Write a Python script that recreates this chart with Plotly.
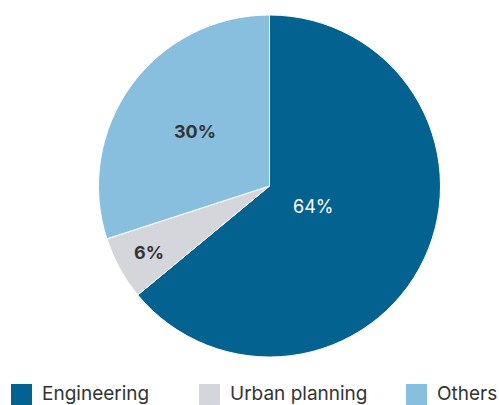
import math
import plotly.graph_objects as go

# Share of staff by field
categories = ["Engineering", "Urban planning", "Others"]
shares = [64, 6, 30]
colors = ["#03628F", "#D5D6DB", "#88BFDE"]
label_colors = ["#FFFFFF", "#333333", "#333333"]
label_weights = [400, 700, 700]
# how far out along each slice's middle the percentage sits (fraction of radius)
label_radius = [0.28, 0.80, 0.54]

W, H = 499, 405
FONT = "Inter, Noto Sans, sans-serif"

# pie box in pixels (from top-left)
PX0, PX1, PY0, PY1 = 98, 441, 15, 357
cx, cy = (PX0 + PX1) / 2, (PY0 + PY1) / 2
R = (PX1 - PX0) / 2

fig = go.Figure(
    go.Pie(
        labels=categories,
        values=shares,
        marker=dict(colors=colors, line=dict(color="#FFFFFF", width=1)),
        sort=False,
        direction="clockwise",
        rotation=0,
        textinfo="none",
        showlegend=False,
        hoverinfo="label+percent",
        domain=dict(x=[PX0 / W, PX1 / W], y=[(H - PY1) / H, (H - PY0) / H]),
    )
)

annotations = []

# percentage labels placed along each slice's bisector
total = sum(shares)
start = 0.0
for val, col, wt, rf in zip(shares, label_colors, label_weights, label_radius):
    mid = (start + val / 2) / total * 2 * math.pi  # clockwise from 12 o'clock
    start += val
    x = cx + rf * R * math.sin(mid)
    y = cy - rf * R * math.cos(mid)
    annotations.append(
        dict(text=f"{round(val / total * 100)}%", xref="paper", yref="paper",
             x=x / W, y=1 - y / H, xanchor="center", yanchor="middle",
             showarrow=False, font=dict(family=FONT, size=18, color=col, weight=wt))
    )

# Legend row drawn as swatches + labels along the bottom
legend_x = [11, 199, 406]
shapes = []
for name, col, x0 in zip(categories, colors, legend_x):
    shapes.append(
        dict(type="rect", xref="paper", yref="paper",
             x0=x0 / W, x1=(x0 + 21) / W, y0=0, y1=21 / H,
             fillcolor=col, line=dict(width=0))
    )
    annotations.append(
        dict(text=name, xref="paper", yref="paper",
             x=(x0 + 29) / W, y=12 / H, xanchor="left", yanchor="middle",
             showarrow=False, font=dict(family=FONT, size=19, color="#333333"))
    )

fig.update_layout(
    width=W, height=H,
    margin=dict(l=0, r=0, t=0, b=0),
    paper_bgcolor="#FFFFFF",
    plot_bgcolor="#FFFFFF",
    shapes=shapes,
    annotations=annotations,
)

fig.write_html("out.html")
